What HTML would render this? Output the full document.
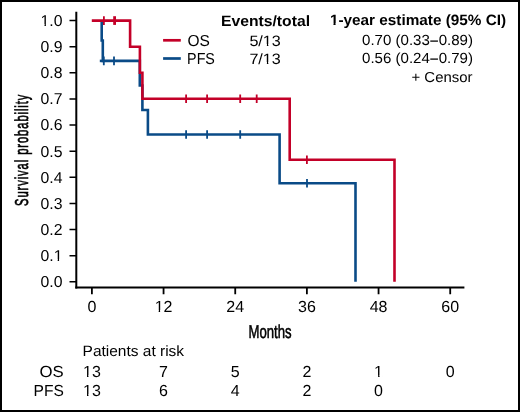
<!DOCTYPE html>
<html><head><meta charset="utf-8">
<style>
html,body{margin:0;padding:0;background:#fff;}
body{width:520px;height:412px;overflow:hidden;}
svg{display:block;will-change:transform;}
text{font-family:"Liberation Sans",sans-serif;fill:#000;text-rendering:geometricPrecision;}
</style></head>
<body>
<svg width="520" height="412" viewBox="0 0 520 412">
<rect x="0" y="0" width="520" height="412" fill="#fff"/>
<rect x="1" y="1" width="518" height="410" fill="none" stroke="#000" stroke-width="2"/>
<g stroke="#000" fill="none">
<path d="M76.3 11.8 V288.4" stroke-width="2"/>
<path d="M75.3 287.4 H464.4" stroke-width="2"/>
<path d="M69.5 281.80 H76 M69.5 255.68 H76 M69.5 229.56 H76 M69.5 203.44 H76 M69.5 177.32 H76 M69.5 151.20 H76 M69.5 125.08 H76 M69.5 98.96 H76 M69.5 72.84 H76 M69.5 46.72 H76 M69.5 20.60 H76" stroke-width="1.5"/>
<path d="M91.90 287.4 V294.3 M163.56 287.4 V294.3 M235.23 287.4 V294.3 M306.89 287.4 V294.3 M378.56 287.4 V294.3 M450.22 287.4 V294.3" stroke-width="1.8"/>
</g>
<text id="yl10" clip-path="url(#cp_yl10)" x="62.5" y="26.00" font-size="15.8" text-anchor="end">1.0</text>
<text id="yl9" x="62.5" y="52.12" font-size="15.8" text-anchor="end">0.9</text>
<text id="yl8" x="62.5" y="78.24" font-size="15.8" text-anchor="end">0.8</text>
<text id="yl7" x="62.5" y="104.36" font-size="15.8" text-anchor="end">0.7</text>
<text id="yl6" x="62.5" y="130.48" font-size="15.8" text-anchor="end">0.6</text>
<text id="yl5" x="62.5" y="156.60" font-size="15.8" text-anchor="end">0.5</text>
<text id="yl4" x="62.5" y="182.72" font-size="15.8" text-anchor="end">0.4</text>
<text id="yl3" x="62.5" y="208.84" font-size="15.8" text-anchor="end">0.3</text>
<text id="yl2" x="62.5" y="234.96" font-size="15.8" text-anchor="end">0.2</text>
<text id="yl1" clip-path="url(#cp_yl1)" x="62.5" y="261.08" font-size="15.8" text-anchor="end">0.1</text>
<text id="yl0" x="62.5" y="287.20" font-size="15.8" text-anchor="end">0.0</text>
<text id="xl0" x="91.90" y="311.5" font-size="16" text-anchor="middle">0</text>
<text id="xl12" clip-path="url(#cp_xl12)" x="163.56" y="311.5" font-size="16" text-anchor="middle">12</text>
<text id="xl24" x="235.23" y="311.5" font-size="16" text-anchor="middle">24</text>
<text id="xl36" x="306.89" y="311.5" font-size="16" text-anchor="middle">36</text>
<text id="xl48" x="378.56" y="311.5" font-size="16" text-anchor="middle">48</text>
<text id="xl60" x="450.22" y="311.5" font-size="16" text-anchor="middle">60</text>
<g fill="none" stroke-width="2.6" stroke-linejoin="miter" stroke-linecap="butt">
<path stroke="#0A4B87" d="M101.7 20.6 V40.5 H102.8 V60.9 H139.8 V85.5 H142.4 V110 H147.9 V134.5 H279.6 V183.3 H355.5 V281.8"/>
<path stroke="#0A4B87" stroke-width="1.8" d="M103.8 56.60 V65.20 M114 56.60 V65.20 M186.1 130.20 V138.80 M207.1 130.20 V138.80 M240.2 130.20 V138.80 M307 179.00 V187.60"/>
<path stroke="#0A4B87" d="M99.8 60.9 H103"/>
<path stroke="#C30028" d="M91.8 20.6 H130.1 V46.7 H139.9 V72.8 H142.4 V98.8 H289.7 V159.8 H394.5 V281.8"/>
<path stroke="#C30028" stroke-width="1.8" d="M103.9 16.30 V24.90 M186.1 94.50 V103.10 M207.1 94.50 V103.10 M240.2 94.50 V103.10 M256.7 94.50 V103.10 M306.9 155.50 V164.10"/>
<path stroke="#C30028" stroke-width="2.8" d="M114.6 16.2 V24.9"/>
</g>
<path d="M163.1 40.3 H180.8" stroke="#C30028" stroke-width="2.7"/>
<path d="M163.1 58.5 H180.8" stroke="#0A4B87" stroke-width="2.7"/>
<text id="ytitle" transform="translate(28.2 150.3) rotate(-90) scale(0.60 1)" font-size="18.7" text-anchor="middle" textLength="185.50" lengthAdjust="spacing" stroke="#000" stroke-width="0.65">Survival probability</text>
<text id="xtitle" transform="translate(270.1 338.2) scale(0.71 1)" font-size="18.5" text-anchor="middle" stroke="#000" stroke-width="0.55">Months</text>
<text id="lg_os" x="187.50" y="45.75" font-size="15.9" textLength="22.40" lengthAdjust="spacingAndGlyphs">OS</text>
<text id="lg_pfs" x="187.10" y="63.80" font-size="15.9" textLength="27.80" lengthAdjust="spacingAndGlyphs">PFS</text>
<text id="h_ev" x="221.00" y="25.70" font-size="15.0" font-weight="bold" textLength="89.00" lengthAdjust="spacingAndGlyphs">Events/total</text>
<text id="ev1" clip-path="url(#cp_ev1)" x="249.40" y="45.60" font-size="15.0" textLength="31.40" lengthAdjust="spacingAndGlyphs">5/13</text>
<text id="ev2" clip-path="url(#cp_ev2)" x="249.40" y="63.90" font-size="15.0" textLength="31.40" lengthAdjust="spacingAndGlyphs">7/13</text>
<text id="h_est" clip-path="url(#cp_h_est)" x="329.90" y="25.40" font-size="15.0" font-weight="bold" textLength="176.30" lengthAdjust="spacingAndGlyphs">1-year estimate (95% CI)</text>
<text id="est1" x="362.00" y="44.90" font-size="14.6" textLength="111.00" lengthAdjust="spacingAndGlyphs">0.70 (0.33<tspan dy="0.6" stroke="#000" stroke-width="0.25">−</tspan><tspan dy="-0.6">0.89)</tspan></text>
<text id="est2" x="362.00" y="63.10" font-size="14.6" textLength="111.00" lengthAdjust="spacingAndGlyphs">0.56 (0.24<tspan dy="0.6" stroke="#000" stroke-width="0.25">−</tspan><tspan dy="-0.6">0.79)</tspan></text>
<text id="cens" x="411.50" y="81.50" font-size="14.5" textLength="61.00" lengthAdjust="spacingAndGlyphs">+ Censor</text>
<text id="par" x="82.60" y="356.30" font-size="15" textLength="101.50" lengthAdjust="spacingAndGlyphs">Patients at risk</text>
<text id="r_os" x="63.80" y="377.30" font-size="16" text-anchor="end" textLength="24.20" lengthAdjust="spacingAndGlyphs">OS</text>
<text id="r_pfs" x="63.80" y="396.40" font-size="16" text-anchor="end" textLength="30.30" lengthAdjust="spacingAndGlyphs">PFS</text>
<text id="ro0" clip-path="url(#cp_ro0)" x="91.90" y="377.3" font-size="16" text-anchor="middle" textLength="17.8" lengthAdjust="spacingAndGlyphs">13</text>
<text id="ro1" x="163.56" y="377.3" font-size="16" text-anchor="middle">7</text>
<text id="ro2" x="235.23" y="377.3" font-size="16" text-anchor="middle">5</text>
<text id="ro3" x="306.89" y="377.3" font-size="16" text-anchor="middle">2</text>
<text id="ro4" clip-path="url(#cp_ro4)" x="378.56" y="377.3" font-size="16" text-anchor="middle">1</text>
<text id="ro5" x="450.22" y="377.3" font-size="16" text-anchor="middle">0</text>
<text id="rp0" clip-path="url(#cp_rp0)" x="91.90" y="396.4" font-size="16" text-anchor="middle" textLength="17.8" lengthAdjust="spacingAndGlyphs">13</text>
<text id="rp1" x="163.56" y="396.4" font-size="16" text-anchor="middle">6</text>
<text id="rp2" x="235.23" y="396.4" font-size="16" text-anchor="middle">4</text>
<text id="rp3" x="306.89" y="396.4" font-size="16" text-anchor="middle">2</text>
<text id="rp4" x="378.56" y="396.4" font-size="16" text-anchor="middle">0</text>
<defs><clipPath id="cp_yl10"><rect x="37.53" y="10.00" width="28.17" height="14.00"/><rect x="37.53" y="26.00" width="28.17" height="7.00"/><rect x="37.53" y="24.00" width="3.20" height="2.00"/><rect x="44.51" y="24.00" width="1.40" height="2.00"/><rect x="49.26" y="24.00" width="16.45" height="2.00"/></clipPath><clipPath id="cp_yl1"><rect x="37.53" y="245.08" width="28.17" height="13.92"/><rect x="37.53" y="261.00" width="28.17" height="7.08"/><rect x="37.53" y="259.00" width="16.38" height="2.00"/><rect x="57.68" y="259.00" width="1.40" height="2.00"/><rect x="62.43" y="259.00" width="3.28" height="2.00"/></clipPath><clipPath id="cp_xl12"><rect x="151.66" y="295.50" width="23.90" height="14.50"/><rect x="151.66" y="312.00" width="23.90" height="6.50"/><rect x="151.66" y="310.00" width="3.22" height="2.00"/><rect x="158.69" y="310.00" width="1.42" height="2.00"/><rect x="163.49" y="310.00" width="12.07" height="2.00"/></clipPath><clipPath id="cp_ev1"><rect x="246.40" y="29.60" width="37.40" height="14.40"/><rect x="246.40" y="46.00" width="37.40" height="6.60"/><rect x="246.40" y="44.00" width="16.67" height="2.00"/><rect x="266.90" y="44.00" width="1.43" height="2.00"/><rect x="271.74" y="44.00" width="12.06" height="2.00"/></clipPath><clipPath id="cp_ev2"><rect x="246.40" y="47.90" width="37.40" height="14.10"/><rect x="246.40" y="64.00" width="37.40" height="6.90"/><rect x="246.40" y="62.00" width="16.67" height="2.00"/><rect x="266.90" y="62.00" width="1.43" height="2.00"/><rect x="271.74" y="62.00" width="12.06" height="2.00"/></clipPath><clipPath id="cp_h_est"><rect x="326.90" y="9.40" width="182.30" height="13.60"/><rect x="326.90" y="25.00" width="182.30" height="7.40"/><rect x="326.90" y="23.00" width="2.97" height="2.00"/><rect x="333.48" y="23.00" width="2.10" height="2.00"/><rect x="338.70" y="23.00" width="170.50" height="2.00"/></clipPath><clipPath id="cp_ro0"><rect x="80.00" y="361.30" width="23.90" height="13.70"/><rect x="80.00" y="377.00" width="23.90" height="7.30"/><rect x="80.00" y="375.00" width="3.22" height="2.00"/><rect x="87.03" y="375.00" width="1.42" height="2.00"/><rect x="91.83" y="375.00" width="12.08" height="2.00"/></clipPath><clipPath id="cp_ro4"><rect x="371.11" y="361.30" width="15.00" height="13.70"/><rect x="371.11" y="377.00" width="15.00" height="7.30"/><rect x="371.11" y="375.00" width="3.22" height="2.00"/><rect x="378.13" y="375.00" width="1.42" height="2.00"/><rect x="382.93" y="375.00" width="3.18" height="2.00"/></clipPath><clipPath id="cp_rp0"><rect x="80.00" y="380.40" width="23.90" height="13.60"/><rect x="80.00" y="396.00" width="23.90" height="7.40"/><rect x="80.00" y="394.00" width="3.22" height="2.00"/><rect x="87.03" y="394.00" width="1.42" height="2.00"/><rect x="91.83" y="394.00" width="12.08" height="2.00"/></clipPath></defs>
</svg>
</body></html>
